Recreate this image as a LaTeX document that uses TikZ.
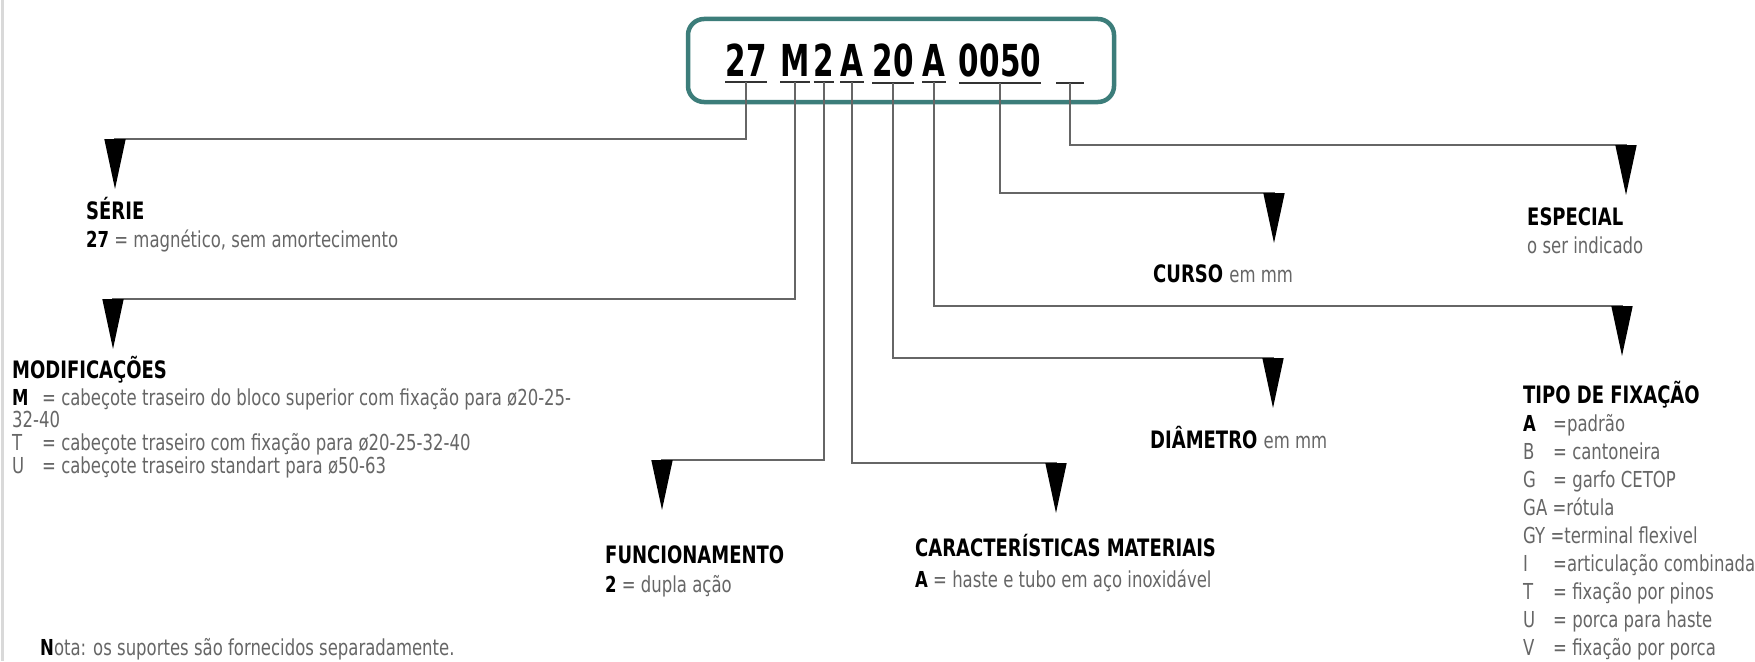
\documentclass[tikz,border=0pt]{standalone}
\usepackage{fontspec}
\setmainfont{DejaVu Sans}[FakeStretch=0.75]
\newfontfamily\codefont{DejaVu Sans}[FakeStretch=0.67]
\usetikzlibrary{arrows.meta}
\definecolor{boxteal}{RGB}{60,125,122}
\newcommand{\kode}[1]{{\bfseries\color{black}#1}}
\newcommand{\cola}[1]{\makebox[30pt][l]{#1}}
\newcommand{\unid}[1]{{\mdseries\fontsize{22}{28}\selectfont\color{black!60}#1}}

\begin{document}
\begin{tikzpicture} [x=1pt, y=-1pt,
    link/.style={line width=1.6pt, black!60, -{Triangle[length=50pt, width=21pt, color=black]}},
    uline/.style={line width=2.4pt, black!80},
    code/.style={font=\codefont\bfseries\fontsize{44}{48}\selectfont, inner sep=0pt, anchor=base},
    hdr/.style={font=\bfseries\fontsize{24}{28}\selectfont, inner sep=0pt, anchor=base west},
    body/.style={font=\fontsize{22}{28}\selectfont, text=black!60, inner sep=0pt, anchor=base west}]
      \fill [white] (0,0) rectangle (1755,661);
      \useasboundingbox (0,0) rectangle (1755,661);
      \draw [black!15, line width=3pt] (2,0) -- (2,661);

      % 型式コード
      \draw [boxteal, line width=4.5pt, rounded corners=16pt] (688,19) rectangle (1114,102);
      \node [code] (c27) at (746,77) {27};
      \node [code] (cM) at (795,77) {M};
      \node [code] (c2) at (824,77) {2};
      \node [code] (cA) at (852,77) {A};
      \node [code] (c20) at (893,77) {20};
      \node [code] (cAf) at (934,77) {A};
      \node [code] (c0050) at (1000,77) {0050};
      \node [code, minimum width=27pt] (cX) at (1070,77) {};
      \foreach \n in {c27,cM,c2,cA,c20,cAf,c0050,cX}
        \draw [uline] ([yshift=-5pt]\n.south west) -- ([yshift=-5pt]\n.south east);

      % 矢印の先
      \coordinate (tSerie) at (115,189);
      \coordinate (tModif) at (113,349);
      \coordinate (tFunc) at (662,510);
      \coordinate (tCarac) at (1056,513);
      \coordinate (tDiam) at (1273,408);
      \coordinate (tCurso) at (1274,243);
      \coordinate (tFix) at (1622,356);
      \coordinate (tEsp) at (1626,195);

      % 引出線
      \draw [link] ([yshift=-5pt]c27.south) |- ([yshift=50pt]tSerie) -- (tSerie);
      \draw [link] ([yshift=-5pt]cM.south) |- ([yshift=50pt]tModif) -- (tModif);
      \draw [link] ([yshift=-5pt]c2.south) |- ([yshift=50pt]tFunc) -- (tFunc);
      \draw [link] ([yshift=-5pt]cA.south) |- ([yshift=50pt]tCarac) -- (tCarac);
      \draw [link] ([yshift=-5pt]c20.south) |- ([yshift=50pt]tDiam) -- (tDiam);
      \draw [link] ([yshift=-5pt]cAf.south) |- ([yshift=50pt]tFix) -- (tFix);
      \draw [link] ([yshift=-5pt]c0050.south) |- ([yshift=50pt]tCurso) -- (tCurso);
      \draw [link] ([yshift=-5pt]cX.south) |- ([yshift=50pt]tEsp) -- (tEsp);

      % 説明
      \node [hdr] (serie) at (86,219) {SÉRIE};
      \node [body] (serieT) at (86,247) {\kode{27} = magnético, sem amortecimento};

      \node [hdr] (modif) at (12,378) {MODIFICAÇÕES};
      \node [body] (modif1) at (12,405) {\cola{\kode{M}}= cabeçote traseiro do bloco superior com fixação para ø20-25-};
      \node [body] (modif2) at (12,427) {32-40};
      \node [body] (modif3) at (12,450) {\cola{T}= cabeçote traseiro com fixação para ø20-25-32-40};
      \node [body] (modif4) at (12,473) {\cola{U}= cabeçote traseiro standart para ø50-63};

      \node [hdr] (func) at (605,563) {FUNCIONAMENTO};
      \node [body] (funcT) at (605,592) {\kode{2} = dupla ação};

      \node [hdr] (carac) at (915,556) {CARACTERÍSTICAS MATERIAIS};
      \node [body] (caracT) at (915,587) {\kode{A} = haste e tubo em aço inoxidável};

      \node [hdr] (curso) at (1153,282) {CURSO \unid{em mm}};
      \node [hdr] (diam) at (1150,448) {DIÂMETRO \unid{em mm}};

      \node [hdr] (esp) at (1527,225) {ESPECIAL};
      \node [body] (espT) at (1527,253) {o ser indicado};

      \node [hdr] (fix) at (1523,403) {TIPO DE FIXAÇÃO};
      \foreach \txt [count=\i] in {{\cola{\kode{A}}=padrão}, {\cola{B}= cantoneira},
          {\cola{G}= garfo CETOP}, {GA =rótula}, {GY =terminal flexivel},
          {\cola{I}=articulação combinada}, {\cola{T}= fixação por pinos},
          {\cola{U}= porca para haste}, {\cola{V}= fixação por porca}}
        \node [body] (fix\i) at (1523,403+28*\i) {\txt};

      \node [body] (nota) at (40,655) {\kode{N}ota: os suportes são fornecidos separadamente.};
\end{tikzpicture}
\end{document}
